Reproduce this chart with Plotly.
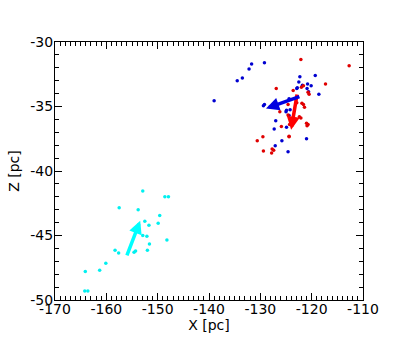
import plotly.graph_objects as go

blue_x = [-131.7, -129.2, -132.2, -133.5, -134.5, -139.0, -122.3, -119.3, -122.5, -121.8, -120.8, -120.1,
          -122.8, -122.9, -120.9, -120.6, -118.6, -124.4, -129.2, -129.4, -124.9, -125.0, -124.4, -124.2,
          -127.0, -127.3, -124.9, -125.8, -127.1, -121.0, -124.6]
blue_z = [-31.7, -31.6, -32.1, -32.8, -33.0, -34.55, -32.7, -32.6, -33.1, -33.35, -33.25, -33.4,
          -33.55, -33.6, -33.6, -33.85, -34.05, -34.4, -34.85, -34.95, -35.3, -35.4, -35.7, -35.25,
          -36.1, -36.75, -36.6, -37.65, -38.05, -37.5, -38.5]

red_x = [-122.1, -112.7, -117.3, -126.9, -123.6, -122.0, -121.6, -120.7, -120.5, -123.2, -122.9,
         -121.9, -121.6, -121.4, -126.2, -124.6, -122.4, -122.1, -121.0, -120.7, -125.9, -124.4,
         -130.6, -129.5, -124.4, -129.4, -127.7, -127.4, -127.8, -124.6, -120.9, -123.6, -124.3, -124.0]
red_z = [-31.35, -31.85, -33.25, -33.6, -33.75, -33.5, -33.4, -33.9, -34.05, -34.4, -34.7,
         -34.75, -34.85, -35.05, -35.4, -35.65, -35.8, -35.9, -36.3, -36.4, -36.55, -37.3,
         -37.65, -37.35, -37.35, -38.45, -38.3, -38.4, -38.6, -34.85, -36.5, -36.2, -36.4, -36.0]

cyan_x = [-152.9, -148.6, -147.9, -157.5, -153.8, -149.6, -152.5, -151.7, -149.9, -152.9, -152.1,
          -151.6, -148.2, -152.0, -154.6, -154.3, -158.3, -157.6, -160.1, -161.3, -164.1, -164.2, -163.6]
cyan_z = [-41.55, -42.0, -42.0, -42.85, -43.0, -43.45, -43.9, -44.2, -44.05, -45.0, -45.05,
          -45.65, -45.35, -46.15, -46.3, -46.2, -46.15, -46.35, -47.15, -47.7, -47.8, -49.3, -49.3]

# arrows: start (x0, z0) -> end (x1, z1)
arrow_x0 = [-122.8, -122.1, -156.1]
arrow_z0 = [-33.95, -34.2, -46.65]
arrow_x1 = [-124.0, -128.9, -153.4]
arrow_z1 = [-36.8, -35.15, -43.85]
arrow_col = ["#ff0000", "#0000e0", "#00ffff"]

x_tickvals = [-170, -160, -150, -140, -130, -120, -110]
x_ticktext = ["-170", "-160", "-150", "-140", "-130", "-120", "-110"]
z_tickvals = [-50, -45, -40, -35, -30]
z_ticktext = ["-50", "-45", "-40", "-35", "-30"]

fig = go.Figure()
for xs, zs, c in [(blue_x, blue_z, "#0000d0"), (red_x, red_z, "#e00000"), (cyan_x, cyan_z, "#00f0f0")]:
    fig.add_trace(go.Scatter(x=xs, y=zs, mode="markers",
                             marker=dict(color=c, size=3.5, line=dict(width=0)),
                             showlegend=False, hoverinfo="skip"))

for x0, z0, x1, z1, c in zip(arrow_x0, arrow_z0, arrow_x1, arrow_z1, arrow_col):
    fig.add_annotation(x=x1, y=z1, ax=x0, ay=z0, xref="x", yref="y", axref="x", ayref="y",
                       showarrow=True, arrowhead=2, arrowsize=0.75, arrowwidth=3.5,
                       arrowcolor=c, standoff=0, startstandoff=0, text="")

font = dict(family="DejaVu Sans", size=14, color="black")
axis_common = dict(showgrid=False, zeroline=False, showline=True, linecolor="black", linewidth=1,
                   mirror="allticks", ticks="inside", ticklen=7, tickcolor="black", tickwidth=1,
                   tickfont=font, automargin=False, tickmode="array",
                   minor=dict(ticks="inside", ticklen=4, dtick=1, tickcolor="black", tickwidth=1))

fig.update_xaxes(range=[-170, -110], tickvals=x_tickvals, ticktext=x_ticktext,
                 title=dict(text="X [pc]", font=font, standoff=0), ticklabelstandoff=-4,
                 **axis_common)
fig.update_yaxes(range=[-50, -30], tickvals=z_tickvals, ticktext=z_ticktext,
                 title=dict(text="Z [pc]", font=font, standoff=7), ticklabelstandoff=-2,
                 **axis_common)
fig.update_xaxes(minor=dict(tick0=-170))
fig.update_yaxes(minor=dict(tick0=-50))

fig.update_layout(width=395, height=351, margin=dict(l=55, r=32, t=42, b=51),
                  plot_bgcolor="white", paper_bgcolor="white", showlegend=False)

fig.write_html("out.html", config={"displayModeBar": False},
               post_script="document.body.style.margin='0';")
